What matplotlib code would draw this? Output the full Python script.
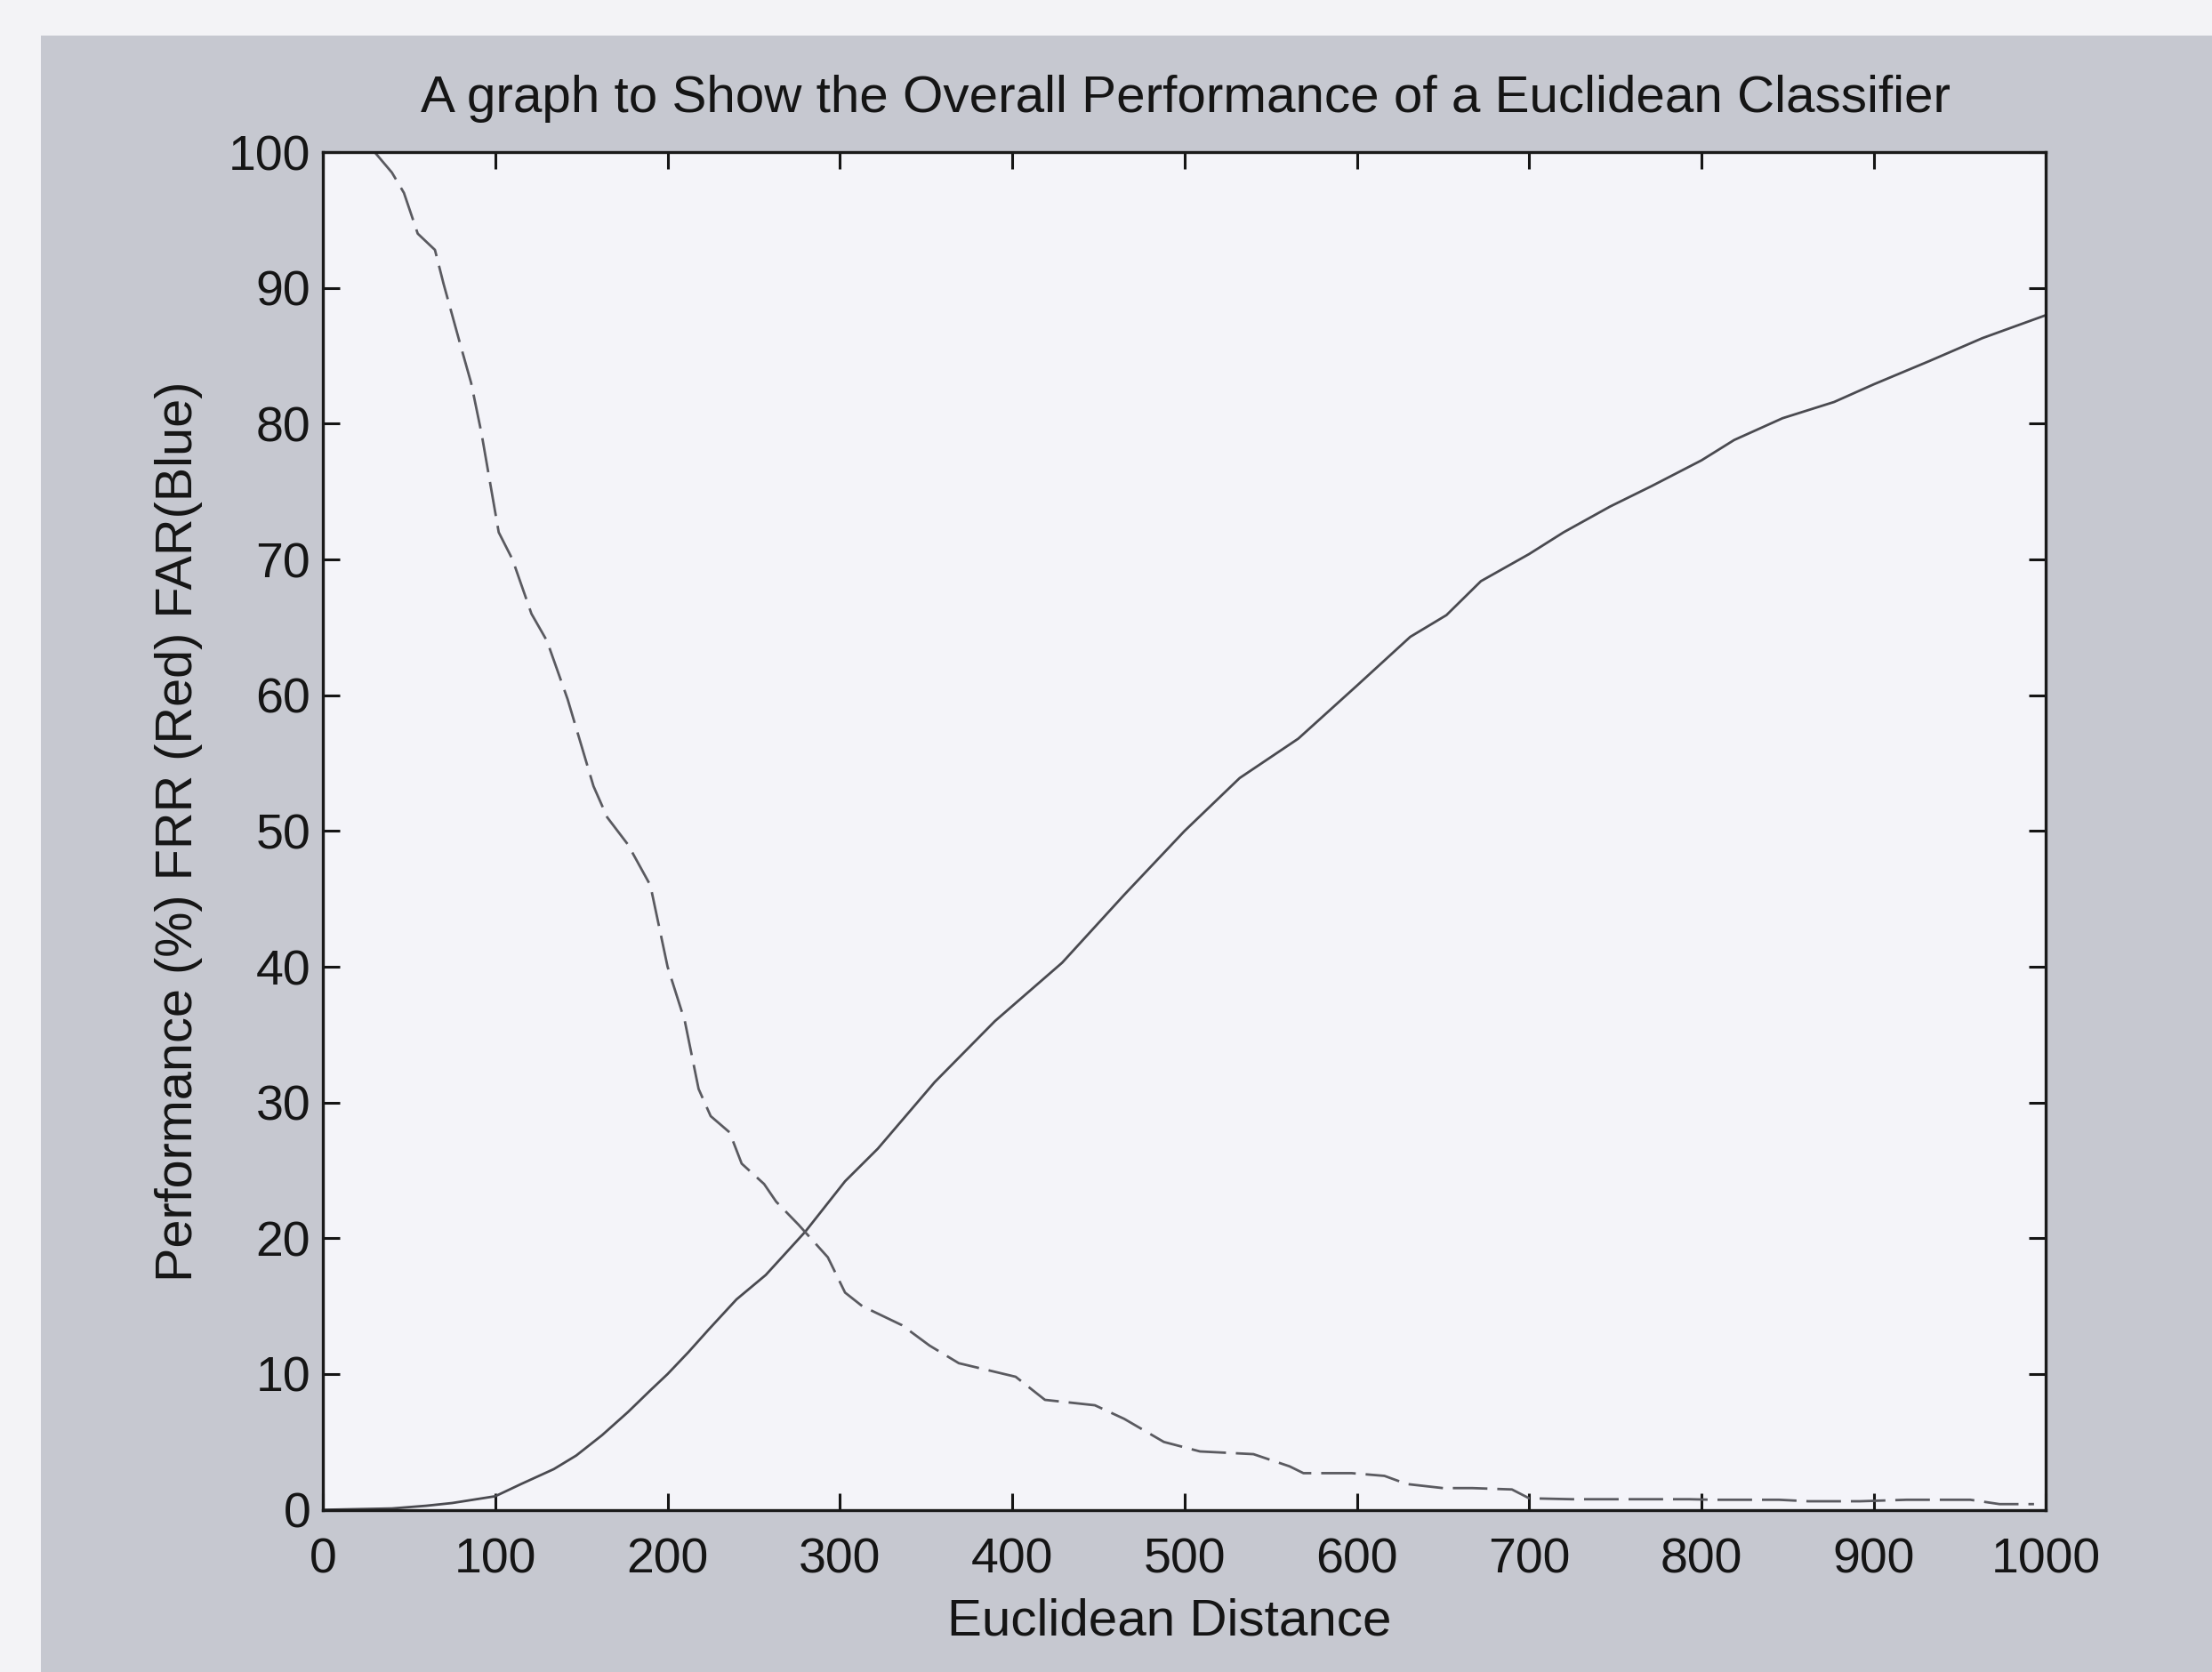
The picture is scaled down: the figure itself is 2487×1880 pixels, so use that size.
import matplotlib
matplotlib.use("Agg")
import matplotlib.pyplot as plt
from matplotlib.patches import Rectangle

# ---- data ----
far_x = [0, 20, 40, 60, 75, 90, 100, 115, 134, 147, 162, 177, 190, 200, 212, 224, 240, 257,
         280, 303, 322, 355, 390, 429, 465, 500, 532, 566, 600, 631, 652, 672, 700, 720, 747,
         771, 800, 819, 847, 877, 900, 932, 963, 1000]
far_y = [0, 0.05, 0.1, 0.3, 0.5, 0.8, 1.0, 1.9, 3.0, 4.0, 5.5, 7.2, 8.8, 10, 11.6, 13.3, 15.5,
         17.3, 20.5, 24.2, 26.6, 31.5, 36, 40.3, 45.3, 50, 53.9, 56.8, 60.7, 64.3, 65.9, 68.4,
         70.4, 72, 73.9, 75.4, 77.3, 78.8, 80.4, 81.6, 82.9, 84.6, 86.3, 88.0]

frr_x = [30, 40, 47, 55, 65, 70, 80, 86, 92, 102, 110, 121, 130, 142, 157, 165, 177, 190, 200,
         210, 218, 225, 236, 243, 256, 263, 276, 293, 303, 313, 336, 352, 369, 402, 419, 448,
         465, 488, 509, 540, 561, 569, 597, 616, 629, 650, 667, 690, 700, 725, 793, 807, 845,
         862, 892, 919, 956, 973, 993]
frr_y = [100, 98.5, 97, 94, 92.8, 90.3, 85.7, 83, 79.3, 72, 70, 66, 64, 59.7, 53.3, 51, 49, 46,
         40, 36, 31, 29, 27.8, 25.5, 24, 22.7, 21, 18.6, 16, 15, 13.6, 12.1, 10.8, 9.8, 8.1, 7.7,
         6.7, 5.0, 4.3, 4.1, 3.2, 2.7, 2.7, 2.5, 1.9, 1.6, 1.6, 1.5, 0.85, 0.78, 0.78, 0.74, 0.74,
         0.63, 0.63, 0.74, 0.74, 0.42, 0.42]

x_ticks = [0, 100, 200, 300, 400, 500, 600, 700, 800, 900, 1000]
y_ticks = [0, 10, 20, 30, 40, 50, 60, 70, 80, 90, 100]

title = "A graph to Show the Overall Performance of a Euclidean Classifier"
xlabel = "Euclidean Distance"
ylabel = "Performance (%) FRR (Red) FAR(Blue)"

plt.rcParams['font.family'] = ['Liberation Sans', 'DejaVu Sans']

fig = plt.figure(figsize=(24.87, 18.80), dpi=100, facecolor='#f3f3f6')
fig.patches.append(Rectangle((46 / 2487, 0), 1, 1 - 40 / 1880, transform=fig.transFigure,
                             facecolor='#c6c8d0', edgecolor='none', zorder=-10))

ax = fig.add_axes([0.146, 0.097, 0.779, 0.812])
ax.set_zorder(5)
ax.set_facecolor('#f4f4f9')

ax.plot(far_x, far_y, color='#4a4a50', lw=2.0, solid_joinstyle='round')
ax.plot(frr_x, frr_y, color='#5a5a60', lw=2.0, linestyle=(0, (14, 4)))

ax.set_xlim(0, 1000)
ax.set_ylim(0, 100)
ax.set_xticks(x_ticks)
ax.set_yticks(y_ticks)
ax.set_xticklabels([str(v) for v in x_ticks])
ax.set_yticklabels([str(v) for v in y_ticks])
ax.tick_params(direction='in', length=14, width=2.2, top=True, right=True,
               labelsize=40, colors='#151515')
ax.tick_params(axis='x', pad=22)
ax.tick_params(axis='y', pad=10)
for s in ax.spines.values():
    s.set_linewidth(2.4)
    s.set_color('#1a1a1a')

fig.text(0.536, 0.941, title, ha='center', va='center', fontsize=42, color='#151515')
fig.text(0.5285, 0.030, xlabel, ha='center', va='center', fontsize=42, color='#151515')
fig.text(0.081, 0.503, ylabel, ha='center', va='center', rotation=90, fontsize=41.5,
         color='#151515')

fig.savefig('out.png', dpi=100, facecolor=fig.get_facecolor())
